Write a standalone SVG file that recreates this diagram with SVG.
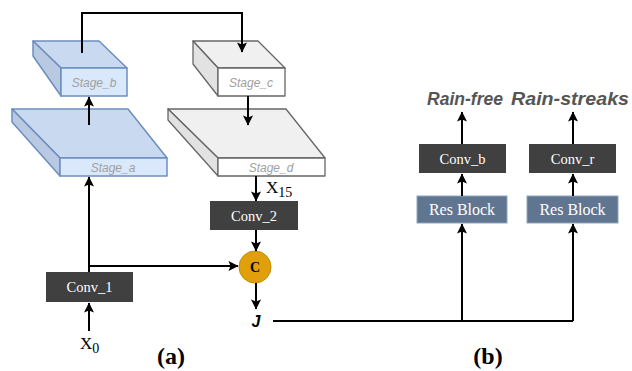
<svg xmlns="http://www.w3.org/2000/svg" width="632" height="371" viewBox="0 0 632 371">
<defs>
<marker id="ah" viewBox="0 0 10 10" refX="9.5" refY="5" markerWidth="11" markerHeight="10" orient="auto" markerUnits="userSpaceOnUse">
<path d="M0,0 L10,5 L0,10 L2,5 z" fill="#000"/>
</marker>
<style>
.line{fill:none;stroke:#000;stroke-width:2}
.arr{fill:none;stroke:#000;stroke-width:2;marker-end:url(#ah)}
.bst{stroke:#6c8ebf;stroke-width:1.5;stroke-linejoin:round}
.gst{stroke:#666;stroke-width:1.3;stroke-linejoin:round}
.stg{font-family:"Liberation Sans",Arial,sans-serif;font-style:italic;font-size:12px;fill:#a0a0a0;text-anchor:middle}
.conv{fill:#404040}
.ctx{font-family:"Liberation Serif","Times New Roman",serif;font-size:14.5px;fill:#fff;text-anchor:middle}
.res{fill:#60758f;stroke:#8fa5bf;stroke-width:1}
.rtx{font-family:"Liberation Serif","Times New Roman",serif;font-size:16px;fill:#fff;text-anchor:middle}
.out{font-family:"Liberation Sans",Arial,sans-serif;font-style:italic;font-weight:bold;font-size:17.5px;fill:#555;text-anchor:middle}
.ser{font-family:"Liberation Serif","Times New Roman",serif;fill:#000}
.cap{font-family:"Liberation Serif","Times New Roman",serif;font-weight:bold;font-size:24px;fill:#000;text-anchor:middle}
</style>
</defs>

<g id="stage_a">
<polygon class="bst" fill="#c9d9f0" points="12,109 128,109 167,158 60,158"/>
<polygon class="bst" fill="#b9c9e2" points="12,109 60,158 60,176 12,122"/>
<rect class="bst" fill="#dae8fc" x="60" y="158" width="107" height="18"/>
<text class="stg" x="113" y="172">Stage_a</text>
</g>

<g id="stage_b">
<polygon class="bst" fill="#c9d9f0" points="33,41 99,41 127,68 61,68"/>
<polygon class="bst" fill="#b9c9e2" points="33,41 61,68 61,96 33,56"/>
<rect class="bst" fill="#dae8fc" x="61" y="68" width="66" height="28"/>
<text class="stg" x="94" y="87">Stage_b</text>
</g>

<g id="stage_c">
<polygon class="gst" fill="#f0f0f0" points="193,41 258,41 285,68 218,68"/>
<polygon class="gst" fill="#e2e2e2" points="193,41 218,68 218,96 193,64"/>
<rect class="gst" fill="#ffffff" x="218" y="68" width="67" height="28"/>
<text class="stg" x="251" y="87">Stage_c</text>
</g>

<g id="stage_d">
<polygon class="gst" fill="#f0f0f0" points="168,109 286,109 325,158 218,158"/>
<polygon class="gst" fill="#e2e2e2" points="168,109 218,158 218,176 168,120"/>
<rect class="gst" fill="#ffffff" x="218" y="158" width="107" height="18"/>
<text class="stg" x="271" y="172">Stage_d</text>
</g>

<g id="conv_1">
<rect class="conv" x="46" y="272" width="87" height="30"/>
<text class="ctx" x="89.5" y="292">Conv_1</text>
</g>

<g id="x0">
<text class="ser" x="80" y="349" font-size="17">X<tspan font-size="14" dy="4">0</tspan></text>
</g>

<g id="conv_2">
<rect class="conv" x="210" y="201" width="88" height="29"/>
<text class="ctx" x="254" y="221">Conv_2</text>
</g>

<g id="x15">
<text class="ser" x="266" y="193" font-size="17">X<tspan font-size="14" dy="4">15</tspan></text>
</g>

<g id="concat">
<circle cx="255" cy="267" r="16" fill="#e0a00c" stroke="#c08a00" stroke-width="1"/>
<text class="ser" x="255" y="272" font-size="14" font-weight="bold" text-anchor="middle" fill="#222">C</text>
</g>

<g id="j">
<text x="256" y="327" font-family="'Liberation Sans',Arial,sans-serif" font-style="italic" font-weight="bold" font-size="16" text-anchor="middle">J</text>
</g>

<g id="res_b">
<rect class="res" x="417" y="196" width="90" height="27"/>
<text class="rtx" x="462" y="215">Res Block</text>
</g>
<g id="res_r">
<rect class="res" x="527" y="196" width="91" height="27"/>
<text class="rtx" x="572.5" y="215">Res Block</text>
</g>

<g id="conv_b">
<rect class="conv" x="419" y="144" width="87" height="29"/>
<text class="ctx" x="462.5" y="164">Conv_b</text>
</g>
<g id="conv_r">
<rect class="conv" x="529" y="144" width="87" height="29"/>
<text class="ctx" x="572.5" y="164">Conv_r</text>
</g>

<g id="rain_free"><text class="out" x="465" y="105">Rain-free</text></g>
<g id="rain_streaks"><text class="out" x="570" y="105" textLength="118" lengthAdjust="spacingAndGlyphs">Rain-streaks</text></g>

<g id="captions">
<text class="cap" x="171" y="364">(a)</text>
<text class="cap" x="488" y="364">(b)</text>
</g>

<g id="connectors">
<path class="arr" d="M82,53 V13 H242 V52"/>
<path class="arr" d="M89,125 V97"/>
<path class="arr" d="M248,96 V125"/>
<path class="arr" d="M89,272 V177"/>
<path class="arr" d="M89,266 H238"/>
<path class="arr" d="M89,331 V303"/>
<path class="arr" d="M256,176 V201"/>
<path class="arr" d="M256,230 V251"/>
<path class="arr" d="M256,283 V309"/>
<path class="line" d="M273,321 H573"/>
<path class="arr" d="M462,321 V224"/>
<path class="arr" d="M573,321 V224"/>
<path class="arr" d="M462,196 V174"/>
<path class="arr" d="M573,196 V174"/>
<path class="arr" d="M462,144 V112"/>
<path class="arr" d="M573,144 V112"/>
</g>
</svg>
